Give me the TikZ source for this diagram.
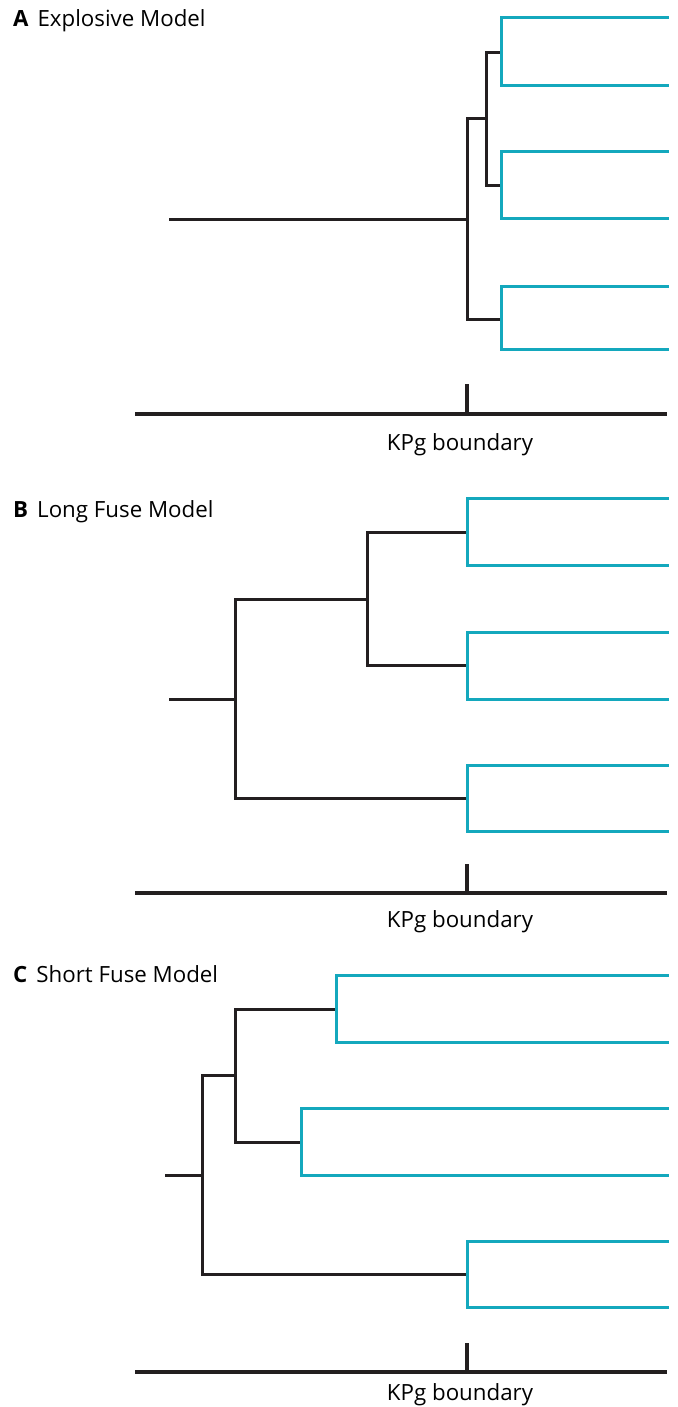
\documentclass[tikz,border=0pt]{standalone}
\usepackage{fontspec}
\setmainfont{Open Sans}
\definecolor{stemcol}{HTML}{231F20}
\definecolor{tipcol}{HTML}{14A8BD}
\tikzset{
  stem/.style={draw=stemcol, line width=3pt, line cap=rect},
  tip/.style={draw=tipcol, line width=3pt, line cap=rect},
  timeline/.style={draw=stemcol, line width=3.6pt},
  paneltitle/.style={anchor=base west, inner sep=0pt, font=\fontsize{22.3}{26}\selectfont},
  kpglabel/.style={inner sep=0pt, font=\fontsize{22.3}{26}\selectfont}
}
\begin{document}
\begin{tikzpicture}[x=1pt, y=-1pt]
  \useasboundingbox (0,0) rectangle (677,1407);

  % A: explosive
  \node[paneltitle] (titleA) at (13,27) {\textbf{A}\hspace{9pt}Explosive Model};
  \draw[stem] (170,219) -- (467,219);
  \draw[stem] (486,119) -- (467,119) -- (467,319) -- (501,319);
  \draw[stem] (501,53) -- (486,53) -- (486,186) -- (501,186);
  \draw[tip] (667,18) -- (501,18) -- (501,86) -- (667,86);
  \draw[tip] (667,152) -- (501,152) -- (501,218) -- (667,218);
  \draw[tip] (667,286) -- (501,286) -- (501,349) -- (667,349);
  \draw[timeline] (135,414) -- (667,414);
  \draw[timeline] (467,384) -- (467,414);
  \node[kpglabel] (kpgA) at (460,445) {KPg boundary};

  % B: long fuse
  \node[paneltitle] (titleB) at (13,517) {\textbf{B}\hspace{9pt}Long Fuse Model};
  \draw[stem] (170,699) -- (235,699);
  \draw[stem] (367,599) -- (235,599) -- (235,798) -- (467,798);
  \draw[stem] (467,532) -- (367,532) -- (367,665) -- (467,665);
  \draw[tip] (667,498) -- (467,498) -- (467,565) -- (667,565);
  \draw[tip] (667,632) -- (467,632) -- (467,699) -- (667,699);
  \draw[tip] (667,765) -- (467,765) -- (467,831) -- (667,831);
  \draw[timeline] (135,893) -- (667,893);
  \draw[timeline] (467,864) -- (467,893);
  \node[kpglabel] (kpgB) at (460,922) {KPg boundary};

  % C: short fuse
  \node[paneltitle] (titleC) at (13,982) {\textbf{C}\hspace{9pt}Short Fuse Model};
  \draw[stem] (166,1175) -- (202,1175);
  \draw[stem] (235,1075) -- (202,1075) -- (202,1274) -- (467,1274);
  \draw[stem] (336,1009) -- (235,1009) -- (235,1142) -- (301,1142);
  \draw[tip] (667,975) -- (336,975) -- (336,1042) -- (667,1042);
  \draw[tip] (667,1108) -- (301,1108) -- (301,1175) -- (667,1175);
  \draw[tip] (667,1241) -- (467,1241) -- (467,1307) -- (667,1307);
  \draw[timeline] (135,1372) -- (667,1372);
  \draw[timeline] (467,1343) -- (467,1372);
  \node[kpglabel] (kpgC) at (460,1395) {KPg boundary};
\end{tikzpicture}
\end{document}
